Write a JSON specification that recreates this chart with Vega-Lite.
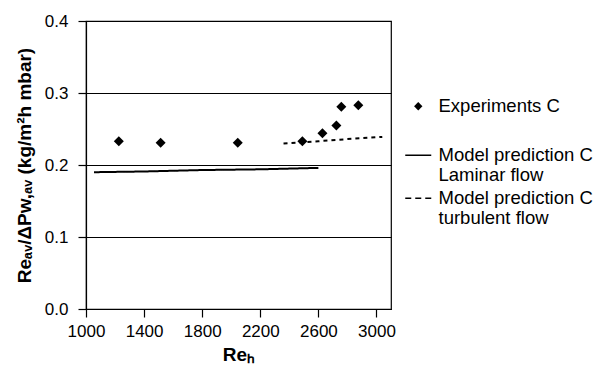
{
  "$schema": "https://vega.github.io/schema/vega-lite/v6.json",
  "width": 305,
  "height": 288,
  "padding": {"left": 15, "top": 12, "right": 5, "bottom": 5},
  "background": "white",
  "config": {
    "font": "Liberation Sans",
    "view": {"stroke": "black", "strokeWidth": 1.2},
    "axis": {
      "domainColor": "black", "tickColor": "black", "labelColor": "black", "titleColor": "black",
      "labelFont": "Liberation Sans", "titleFont": "Liberation Sans",
      "labelFontSize": 17, "titleFontSize": 19, "titleFontWeight": "bold",
      "tickSize": 8, "domainWidth": 1.2, "tickWidth": 1.2, "labelFlush": false
    }
  },
  "data": {"values": [
    {"series": "Experiments C", "x": 1226, "y": 0.233},
    {"series": "Experiments C", "x": 1514, "y": 0.231},
    {"series": "Experiments C", "x": 2045, "y": 0.231},
    {"series": "Experiments C", "x": 2490, "y": 0.233},
    {"series": "Experiments C", "x": 2628, "y": 0.244},
    {"series": "Experiments C", "x": 2724, "y": 0.255},
    {"series": "Experiments C", "x": 2758, "y": 0.281},
    {"series": "Experiments C", "x": 2875, "y": 0.283},
    {"series": "Model prediction C|Laminar flow", "x": 1055, "y": 0.190},
    {"series": "Model prediction C|Laminar flow", "x": 1400, "y": 0.191},
    {"series": "Model prediction C|Laminar flow", "x": 1800, "y": 0.193},
    {"series": "Model prediction C|Laminar flow", "x": 2200, "y": 0.194},
    {"series": "Model prediction C|Laminar flow", "x": 2600, "y": 0.196},
    {"series": "Model prediction C|turbulent flow", "x": 2360, "y": 0.230},
    {"series": "Model prediction C|turbulent flow", "x": 2600, "y": 0.233},
    {"series": "Model prediction C|turbulent flow", "x": 2800, "y": 0.236},
    {"series": "Model prediction C|turbulent flow", "x": 3040, "y": 0.239}
  ]},
  "encoding": {
    "x": {"field": "x", "type": "quantitative",
      "scale": {"domain": [1000, 3100], "nice": false, "zero": false},
      "axis": {"values": [1000, 1400, 1800, 2200, 2600, 3000], "format": "d", "grid": false, "labelPadding": 6, "title": "Reₕ", "titlePadding": 6}},
    "y": {"field": "y", "type": "quantitative",
      "scale": {"domain": [0, 0.4], "nice": false},
      "axis": {"values": [0, 0.1, 0.2, 0.3, 0.4], "format": ".1f", "grid": true, "gridColor": "black", "gridOpacity": 1, "gridWidth": 1.2, "labelPadding": 10, "title": "Reₐᵥ/ΔPw,ₐᵥ (kg/m²h mbar)", "titlePadding": 10}},
    "color": {"field": "series", "type": "nominal",
      "scale": {"domain": ["Experiments C", "Model prediction C|Laminar flow", "Model prediction C|turbulent flow"], "range": ["black", "black", "black"]},
      "legend": {
        "title": null, "orient": "none", "legendX": 323, "legendY": 76,
        "labelExpr": "datum.label == 'Experiments C' ? ['Experiments C', ''] : split(datum.label, '|')",
        "labelFontSize": 18.5, "labelColor": "black", "labelFont": "Liberation Sans",
        "labelBaseline": "alphabetic", "labelOffset": 11, "rowPadding": 4, "labelLimit": 300,
        "symbolSize": 676,
        "encode": {
          "symbols": {"update": {
            "shape": {"signal": "datum.value == 'Experiments C' ? 'diamond' : 'stroke'"},
            "size": {"signal": "datum.value == 'Experiments C' ? 70 : 676"},
            "fill": {"signal": "datum.value == 'Experiments C' ? 'black' : 'transparent'"},
            "stroke": {"value": "black"},
            "strokeWidth": {"signal": "datum.value == 'Experiments C' ? 0 : 1.5"},
            "strokeDash": {"signal": "datum.value == 'Model prediction C|turbulent flow' ? [6, 4] : [1, 0]"}
          }},
          "labels": {"update": {
            "lineHeight": {"signal": "datum.value == 'Experiments C' ? 26 : 20"},
            "dy": {"value": 6.2}
          }}
        }
      }}
  },
  "layer": [
    {
      "transform": [{"filter": "datum.series != 'Experiments C'"}],
      "mark": {"type": "line", "strokeWidth": 2},
      "encoding": {
        "strokeDash": {"field": "series", "type": "nominal",
          "scale": {"domain": ["Model prediction C|Laminar flow", "Model prediction C|turbulent flow"], "range": [[1, 0], [4, 4]]},
          "legend": null},
        "strokeWidth": {"field": "series", "type": "nominal",
          "scale": {"domain": ["Model prediction C|Laminar flow", "Model prediction C|turbulent flow"], "range": [2, 3]},
          "legend": null}
      }
    },
    {
      "transform": [{"filter": "datum.series == 'Experiments C'"}],
      "mark": {"type": "point", "shape": "diamond", "filled": true, "size": 100, "opacity": 1}
    }
  ]
}
